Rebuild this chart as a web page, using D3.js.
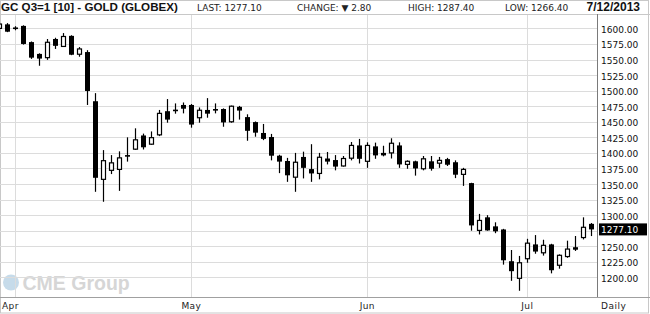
<!DOCTYPE html>
<html lang="en">
<head>
<meta charset="UTF-8">
<title>GC Q3 Gold Daily</title>
<script src="https://d3js.org/d3.v7.min.js"></script>
<style>
body {
  margin: 0;
  background: white;
}
text {
  font-family: "DejaVu Sans", Verdana, sans-serif;
}
.hdr {
  font-size: 9px;
  fill: #222;
}
.ylab {
  font-size: 9px;
  fill: #111;
}
.grid line {
  stroke: #dcdcdc;
  stroke-width: 1;
}
</style>
</head>
<body>
<div id="chart"></div>
<script>

// trading days shown (Mar 27 - Jul 12 2013)
var dates = ["3/27","3/28",
  "4/1","4/2","4/3","4/4","4/5","4/8","4/9","4/10","4/11","4/12","4/15","4/16","4/17","4/18","4/19","4/22","4/23","4/24","4/25","4/26","4/29","4/30",
  "5/1","5/2","5/3","5/6","5/7","5/8","5/9","5/10","5/13","5/14","5/15","5/16","5/17","5/20","5/21","5/22","5/23","5/24","5/28","5/29","5/30","5/31",
  "6/3","6/4","6/5","6/6","6/7","6/10","6/11","6/12","6/13","6/14","6/17","6/18","6/19","6/20","6/21","6/24","6/25","6/26","6/27","6/28",
  "7/1","7/2","7/3","7/5","7/8","7/9","7/10","7/11","7/12"];

var open = [1600,1606.5,
  1601.5,1604,1578,1559,1553,1583,1571,1588,1558.5,1562,1483,1357.5,1372,1373.5,1396.5,1406,1428,1414,1429,1467,1469.5,1477,
  1477,1456.5,1469,1470.5,1470.5,1450,1474,1457.5,1449.5,1432,1425.5,1395.5,1387,1361,1393.5,1374,1367,1391,1388.5,1379,1391.5,1412,
  1386.5,1410.5,1400,1400,1412,1381.5,1386.5,1374.5,1386.5,1383.5,1390,1385,1365.5,1351.5,1275.5,1296.5,1282,1277,1226,1198.5,
  1230,1253,1239.5,1253,1219.5,1233.5,1248.5,1264,1286];

var high = [1609,1608.5,
  1603.5,1605,1579,1560,1583,1585,1592.5,1589,1570,1565,1496,1404.5,1396.5,1402.5,1425,1439.5,1431,1434.5,1469,1486.5,1479.5,1481,
  1478.5,1473,1488,1479.5,1471.5,1476,1475.5,1462,1450.5,1446.5,1430.5,1397,1392,1400,1402,1414,1400,1401.5,1396.5,1395,1417.5,1422.5,
  1417,1416.5,1411.5,1423.5,1417,1388,1387.5,1395,1395,1393.5,1392,1388,1376,1352,1302,1300,1288.5,1278,1244,1234.5,
  1262,1268,1260.5,1254,1237,1259,1266.5,1296.5,1287.4];

var low = [1599,1594,
  1597,1574,1551,1540,1549.5,1567,1570.5,1557,1554.5,1477,1337.5,1321.5,1366,1339,1386,1405,1405.5,1413,1427,1448.5,1463,1463.5,
  1440.5,1448.5,1456.5,1463.5,1442,1448.5,1453.5,1419.5,1426,1420.5,1388,1367.5,1353.5,1337.5,1359,1353.5,1357.5,1381.5,1372,1378,1388,1383,
  1376,1390.5,1394.5,1391,1376,1374.5,1363.5,1372,1371.5,1376,1379,1359.5,1347,1275,1269,1275,1271,1220.5,1194.5,1178.5,
  1223.5,1238,1235,1206.5,1214,1231.5,1242.5,1261,1266.4];

var close = [1607,1594.7,
  1600,1575,1553,1551.5,1577.7,1572,1587,1557.7,1567,1499.5,1360,1387.5,1384,1392,1395,1421,1409,1424.5,1463.5,1453.5,1467.5,1471,
  1445.5,1468.5,1463,1468.5,1449,1475,1468,1435.5,1432.5,1422.5,1395.5,1386,1364,1385,1376,1367,1393,1386,1378,1391,1412,1390.5,
  1412,1396,1396,1415.5,1381.5,1386.5,1375,1390.5,1374.5,1388,1381,1365,1373.5,1283.5,1291.5,1275.5,1274,1227.5,1210,1223.5,
  1255,1241.5,1251.5,1211.5,1235.5,1245.5,1244.5,1280.5,1277.1];

var yTicks = [1200,1225,1250,1300,1325,1350,1375,1400,1425,1450,1475,1500,1525,1550,1575,1600];
var gridTicks = [1200,1225,1250,1275,1300,1325,1350,1375,1400,1425,1450,1475,1500,1525,1550,1575,1600];
var monthStarts = ["4/1","5/1","6/3","7/1"];
var monthNames = ["Apr","May","Jun","Jul"];

var lastPrice = 1277.10;

var width = 650, height = 314;
var plotTop = 14, plotBottom = 297, plotRight = 597;

var svg = d3.select("#chart")
  .append("svg")
    .attr("width", width)
    .attr("height", height);

var x = d3.scalePoint()
  .domain(dates)
  .range([-0.7, 591.3]);

var y = d3.scaleLinear()
  .domain([1200, 1600])
  .range([277.4, 28.4]);

// frame
svg.append("rect")
  .attr("x", 0.5).attr("y", 0.5)
  .attr("width", width - 2).attr("height", height - 1.5)
  .attr("fill", "none").attr("stroke", "#c8c8c8");

// header
svg.append("text")
  .attr("x", 1).attr("y", 10.5)
  .style("font-family", "'Liberation Sans', Arial, sans-serif")
  .style("font-weight", "bold").style("font-size", "11.6px")
  .attr("fill", "#111")
  .text("GC Q3=1 [10] - GOLD (GLOBEX)");
svg.append("text").attr("class", "hdr").attr("x", 197).attr("y", 10.5).text("LAST: 1277.10");
svg.append("text").attr("class", "hdr").attr("x", 297).attr("y", 10.5).text("CHANGE: \u25BC 2.80");
svg.append("text").attr("class", "hdr").attr("x", 408).attr("y", 10.5).text("HIGH: 1287.40");
svg.append("text").attr("class", "hdr").attr("x", 505).attr("y", 10.5).text("LOW: 1266.40");
svg.append("text")
  .attr("x", 640).attr("y", 10.5)
  .attr("text-anchor", "end")
  .style("font-family", "'Liberation Sans', Arial, sans-serif")
  .style("font-weight", "bold").style("font-size", "12px")
  .attr("fill", "#111")
  .text("7/12/2013");

svg.append("line")
  .attr("x1", 0).attr("x2", width)
  .attr("y1", plotTop + 0.5).attr("y2", plotTop + 0.5)
  .attr("stroke", "#c8c8c8");

// watermark
var wm = svg.append("g");
wm.append("circle").attr("cx", 11).attr("cy", 282.5).attr("r", 8).attr("fill", "#c6dbea");
wm.append("text")
  .attr("x", 22.5).attr("y", 289.5)
  .style("font-family", "'Liberation Sans', Arial, sans-serif")
  .style("font-weight", "bold")
  .style("font-size", "19.5px")
  .attr("fill", "#d6d6d6")
  .text("CME Group");

// horizontal grid
var grid = svg.append("g").attr("class", "grid");
grid.selectAll(".h")
  .data(gridTicks)
  .enter().append("line")
    .attr("x1", 0).attr("x2", plotRight)
    .attr("y1", function(d) { return Math.round(y(d)) + 0.5; })
    .attr("y2", function(d) { return Math.round(y(d)) + 0.5; });

// month separators
grid.selectAll(".v")
  .data(monthStarts)
  .enter().append("line")
    .attr("x1", function(d) { return Math.floor(x(d)) + 0.5; })
    .attr("x2", function(d) { return Math.floor(x(d)) + 0.5; })
    .attr("y1", plotTop + 1).attr("y2", plotBottom);

// candles
var candles = dates.map(function(d, i) {
  return {date: d, o: open[i], h: high[i], l: low[i], c: close[i]};
});

svg.append("clipPath").attr("id", "plotclip")
  .append("rect").attr("x", 0).attr("y", plotTop).attr("width", plotRight).attr("height", plotBottom - plotTop);

var cg = svg.append("g").attr("clip-path", "url(#plotclip)");

var candle = cg.selectAll(".candle")
  .data(candles)
  .enter().append("g")
    .attr("class", "candle");

candle.append("line")
  .attr("x1", function(d) { return Math.floor(x(d.date)) + 0.5; })
  .attr("x2", function(d) { return Math.floor(x(d.date)) + 0.5; })
  .attr("y1", function(d) { return y(d.h); })
  .attr("y2", function(d) { return y(d.l); })
  .attr("stroke", "#000")
  .attr("stroke-width", 1.2);

candle.append("rect")
  .attr("x", function(d) { return d.c >= d.o ? Math.floor(x(d.date)) - 1.5 : Math.floor(x(d.date)) - 2; })
  .attr("width", function(d) { return d.c >= d.o ? 4 : 5; })
  .attr("y", function(d) { return y(Math.max(d.o, d.c)); })
  .attr("height", function(d) { return Math.max(1.6, Math.abs(y(d.o) - y(d.c))); })
  .attr("fill", function(d) { return d.c >= d.o ? "#fff" : "#000"; })
  .attr("stroke", function(d) { return d.c >= d.o ? "#000" : "none"; })
  .attr("stroke-width", 1.2);

// right axis
svg.append("line")
  .attr("x1", plotRight + 0.5).attr("x2", plotRight + 0.5)
  .attr("y1", plotTop).attr("y2", plotBottom)
  .attr("stroke", "#7a7a7a");

svg.selectAll(".ylab")
  .data(yTicks)
  .enter().append("text")
    .attr("class", "ylab")
    .attr("x", 601)
    .attr("y", function(d) { return y(d) + 4.5; })
    .text(function(d) { return d3.format(".2f")(d); });

// last price marker
svg.append("rect")
  .attr("x", 599).attr("y", y(lastPrice) - 6)
  .attr("width", 48).attr("height", 12)
  .attr("fill", "#000");
svg.append("text")
  .attr("class", "ylab")
  .attr("x", 601).attr("y", y(lastPrice) + 4)
  .attr("fill", "#fff").style("fill", "#fff")
  .text(d3.format(".2f")(lastPrice));

// bottom axis
svg.append("line")
  .attr("x1", 0).attr("x2", width)
  .attr("y1", plotBottom + 0.5).attr("y2", plotBottom + 0.5)
  .attr("stroke", "#a0a0a0");

svg.selectAll(".mlab")
  .data(monthStarts)
  .enter().append("text")
    .attr("class", "hdr")
    .attr("x", function(d, i) { return i == 0 ? 2 : x(d); })
    .attr("y", 309)
    .attr("text-anchor", function(d, i) { return i == 0 ? "start" : "middle"; })
    .style("letter-spacing", "0.4px")
    .text(function(d, i) { return monthNames[i]; });

svg.append("text")
  .attr("class", "hdr")
  .attr("x", 601).attr("y", 309)
  .style("letter-spacing", "0.5px")
  .text("Daily");

</script>
</body>
</html>
